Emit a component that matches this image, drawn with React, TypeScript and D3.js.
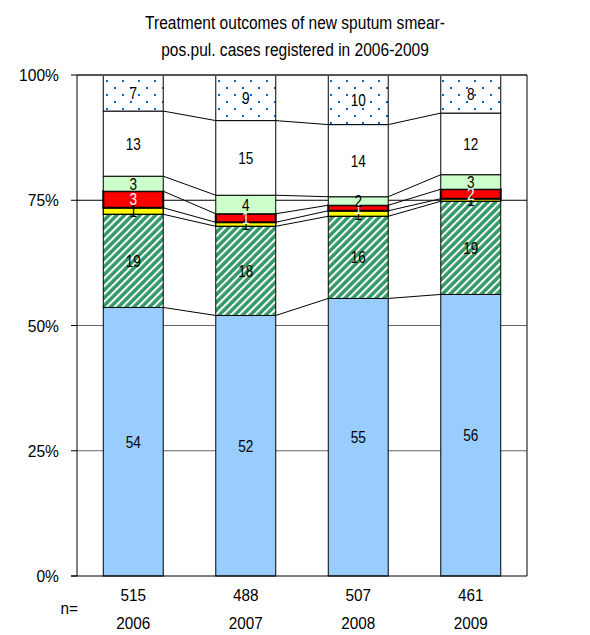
import React from "react";
import * as d3 from "d3";

const years = ["2006", "2007", "2008", "2009"];
const nValues = ["515", "488", "507", "461"];
const cured = [53.6, 52.0, 55.4, 56.2];
const completed = [18.6, 17.8, 16.4, 18.6];
const died = [1.3, 0.8, 1.1, 0.5];
const failed = [3.3, 1.7, 1.1, 1.9];
const defaulted = [3.0, 3.7, 1.7, 2.9];
const transferred = [13.0, 14.9, 14.4, 12.3];
const notEvaluated = [7.2, 9.2, 10.0, 7.5];

const curedLabels = [54, 52, 55, 56];
const completedLabels = [19, 18, 16, 19];
const diedLabels = [1, 1, 1, 1];
const failedLabels = [3, 1, 1, 2];
const defaultedLabels = [3, 4, 2, 3];
const transferredLabels = [13, 15, 14, 12];
const notEvaluatedLabels = [7, 9, 10, 8];

const yTicks = [0, 25, 50, 75, 100];
const titleLines = ["Treatment outcomes of new sputum smear-", "pos.pul. cases registered in 2006-2009"];

const W = 590, H = 635;
const m = { left: 77, right: 63, top: 75, bottom: 59 };
const FONT = "Liberation Sans, Arial, sans-serif";

function T({ x, y, size, sx = 1, anchor = "middle", fill = "#000", children }: any) {
  return (
    <text transform={`translate(${x},${y}) scale(${sx},1)`} textAnchor={anchor} fontFamily={FONT} fontSize={size} fill={fill}>
      {children}
    </text>
  );
}

export default function App() {
  const x = d3.scaleBand().domain(years).range([m.left, W - m.right]).paddingInner(0.467).paddingOuter(0.2335);
  const y = d3.scaleLinear().domain([0, 100]).range([H - m.bottom, m.top]);

  const series = [
    { key: "cured", values: cured, labels: curedLabels, fill: "#99ccff", text: "#000", stroke: 1 },
    { key: "completed", values: completed, labels: completedLabels, fill: "url(#hatch)", text: "#000", stroke: 1 },
    { key: "died", values: died, labels: diedLabels, fill: "#ffff00", text: "#000", stroke: 1.3 },
    { key: "failed", values: failed, labels: failedLabels, fill: "#ff0000", text: "#fff", stroke: 2 },
    { key: "defaulted", values: defaulted, labels: defaultedLabels, fill: "#ccffcc", text: "#000", stroke: 1 },
    { key: "transferred", values: transferred, labels: transferredLabels, fill: "#ffffff", text: "#000", stroke: 1 },
    { key: "notEvaluated", values: notEvaluated, labels: notEvaluatedLabels, fill: "url(#dots)", text: "#000", stroke: 1 },
  ];
  const table = years.map((yr, i) => {
    const o: any = { year: yr };
    series.forEach((s) => (o[s.key] = s.values[i]));
    return o;
  });
  const stacked = d3.stack().keys(series.map((s) => s.key))(table);
  const bw = x.bandwidth();

  return (
    <svg width={W} height={H} style={{ position: "absolute", left: 0, top: 0, background: "#fff" }}>
      <defs>
        <pattern id="hatch" patternUnits="userSpaceOnUse" width="5.5" height="5.5" patternTransform="rotate(45)">
          <rect width="5.5" height="5.5" fill="#339966" />
          <rect width="2" height="5.5" fill="#ffffff" />
        </pattern>
        <pattern id="dots" patternUnits="userSpaceOnUse" width="16" height="14">
          <rect width="16" height="14" fill="#ffffff" />
          <rect x="2" y="3" width="2" height="2" fill="#0066cc" />
          <rect x="10" y="10" width="2" height="2" fill="#0066cc" />
        </pattern>
      </defs>
      {titleLines.map((t, i) => (
        <T key={t} x={295} y={29 + i * 27} size={18.5} sx={0.84}>{t}</T>
      ))}
      {/* gridlines */}
      {yTicks.filter((t) => t > 0 && t < 100).map((t) => (
        <line key={t} x1={m.left} x2={W - m.right} y1={y(t)} y2={y(t)} stroke={t === 75 ? "#000" : "#666"} strokeWidth={1} />
      ))}
      {/* ticks & labels */}
      {yTicks.map((t) => (
        <g key={"t" + t}>
          <line x1={m.left - 6} x2={m.left} y1={y(t)} y2={y(t)} stroke="#000" />
          <T x={59} y={y(t) + 6} size={17} sx={0.92} anchor="end">{t}%</T>
        </g>
      ))}
      {/* connector lines */}
      {stacked.slice(0, stacked.length - 1).map((layer) =>
        years.slice(0, -1).map((yr, i) => (
          <line key={layer.key + yr} x1={(x(yr) as number) + bw} x2={x(years[i + 1]) as number}
            y1={y(layer[i][1])} y2={y(layer[i + 1][1])} stroke="#000" strokeWidth={1} />
        ))
      )}
      {/* bars */}
      {stacked.map((layer, si) =>
        layer.map((d, i) => (
          <rect key={layer.key + i} x={x(years[i])} y={y(d[1])} width={bw} height={y(d[0]) - y(d[1])}
            fill={series[si].fill} stroke="#000" strokeWidth={series[si].stroke} />
        ))
      )}
      {/* frame */}
      <line x1={m.left} x2={W - m.right} y1={m.top} y2={m.top} stroke="#555" strokeWidth={2} />
      <line x1={m.left} x2={m.left} y1={m.top} y2={H - m.bottom} stroke="#000" />
      <line x1={W - m.right} x2={W - m.right} y1={m.top} y2={H - m.bottom} stroke="#000" />
      <line x1={m.left - 6} x2={W - m.right} y1={H - m.bottom} y2={H - m.bottom} stroke="#000" />
      {/* labels */}
      {stacked.map((layer, si) =>
        layer.map((d, i) => (
          <T key={"l" + layer.key + i} x={(x(years[i]) as number) + bw / 2} y={(y(d[0]) + y(d[1])) / 2 + 6}
            size={17} sx={0.8} fill={series[si].text}>
            {series[si].labels[i]}
          </T>
        ))
      )}
      {/* x labels */}
      {years.map((yr, i) => (
        <g key={"x" + yr}>
          <T x={(x(yr) as number) + bw / 2} y={601} size={17} sx={0.9}>{nValues[i]}</T>
          <T x={(x(yr) as number) + bw / 2} y={629} size={17} sx={0.9}>{yr}</T>
        </g>
      ))}
      <T x={78} y={614} size={17} sx={0.9} anchor="end">n=</T>
    </svg>
  );
}
